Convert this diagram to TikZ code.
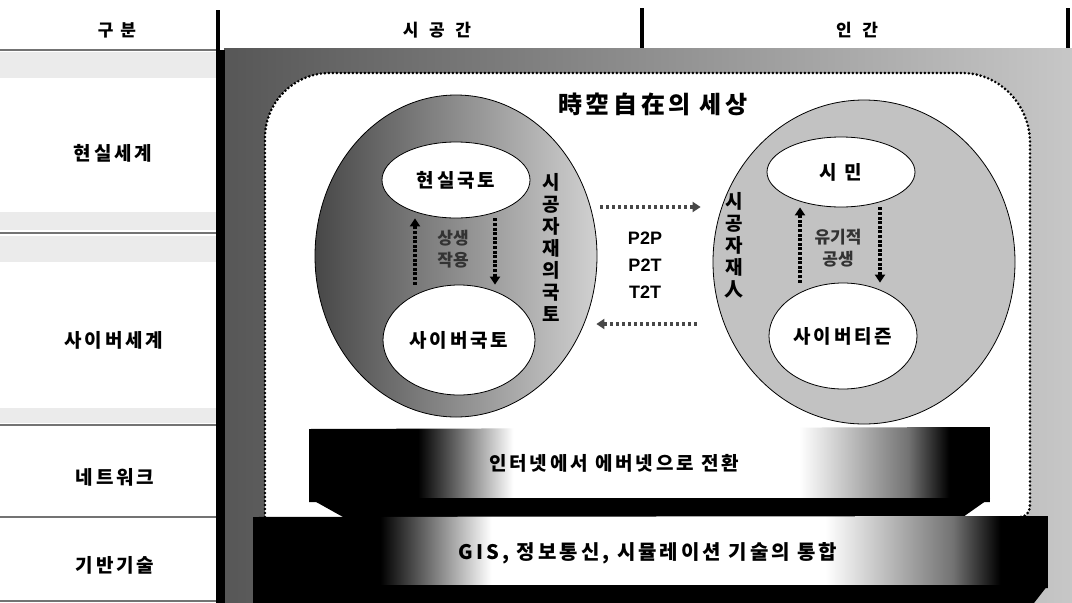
\documentclass[tikz,border=0pt]{standalone}
\usepackage{fontspec}
\setmainfont{Noto Sans CJK KR}
\newfontfamily\krs{Noto Sans CJK KR}[LetterSpace=15]
\newfontfamily\krw{Noto Sans CJK KR}[LetterSpace=40]
\newfontfamily\lat{Liberation Sans}
\usetikzlibrary{arrows.meta,shapes.geometric}
\definecolor{midgray}{gray}{0.45}
\definecolor{panelL}{gray}{0.34}
\definecolor{panelR}{gray}{0.78}
\pgfdeclarehorizontalshading{barshade}{100bp}{color(0bp)=(black); color(25bp)=(black); color(33bp)=(black); color(40bp)=(white); color(61bp)=(white); color(69bp)=(midgray); color(72bp)=(black); color(100bp)=(black)}
\tikzset{
  hdr/.style={font=\krw\bfseries\fontsize{17}{19}\selectfont},
  rowlbl/.style={font=\krs\bfseries\fontsize{19}{21}\selectfont},
  inlbl/.style={font=\krs\bfseries\fontsize{19}{21}\selectfont},
  outer/.style={ellipse, draw=black, line width=0.8pt, inner sep=0pt},
  inner/.style={ellipse, draw=black, line width=0.8pt, fill=white, inner sep=0pt},
  vtext/.style={font=\bfseries\fontsize{19}{22}\selectfont, align=center, inner sep=0pt},
  smalltxt/.style={font=\bfseries\fontsize{17}{22}\selectfont, align=center, text=black!80, inner sep=0pt},
  varrow/.style={line width=3.2pt, dash pattern=on 3pt off 1.6pt, -{Triangle[length=8pt,width=10pt]}},
  harrow/.style={line width=3.4pt, black!72, dash pattern=on 3pt off 3pt, -{Triangle[length=8pt,width=10pt]}},
  sepline/.style={line width=2.5pt, black!55},
  sepband/.style={fill=black!8, draw=none},
  vbar/.style={fill=black, draw=none},
  dotb/.style={line width=2.9pt, dash pattern=on 0pt off 4pt, line cap=round}
}
\begin{document}
\begin{tikzpicture}[x=1pt,y=-1pt]
\useasboundingbox (0,0) rectangle (1072,603);
\fill[white] (0,0) rectangle (1072,603);
% left column bands
\path[sepband] (0,52) rectangle (216,78);
\path[sepband] (0,212) rectangle (216,230);
\path[sepband] (0,236) rectangle (216,262);
\path[sepband] (0,408) rectangle (216,423);
\draw[sepline] (0,50) -- (218,50);
\draw[sepline] (0,233) -- (218,233);
\draw[sepline] (0,425) -- (218,425);
\draw[sepline] (0,517) -- (218,517);
\draw[sepline] (0,601) -- (218,601);
% header bars
\path[vbar] (216,10) rectangle (220,50);
\path[vbar] (640,8) rectangle (644,48);
\path[vbar] (1066,8) rectangle (1070,50);
% main panel
\shade[left color=panelL, right color=panelR] (224,48) -- (1072,48) -- (1072,603) -- (224,603) -- (224,56) -- cycle;
\path[vbar] (216,50) rectangle (225,603);
% inner white box
\fill[white] (265,517) -- (265,138) .. controls (265,102) and (294,73) .. (330,73) -- (962,73) .. controls (1000,73) and (1030,105) .. (1030,143) -- (1030,505) .. controls (1030,512) and (1026,517) .. (1020,517) -- cycle;
\draw[dotb] (265,517) -- (265,138) .. controls (265,102) and (294,73) .. (330,73) -- (962,73) .. controls (1000,73) and (1030,105) .. (1030,143) -- (1030,505) .. controls (1030,512) and (1026,517) .. (1020,517);
% header texts
\node[hdr] (h0) at (117,30) {구분};
\node[hdr] (h1) at (437,30) {시 공 간};
\node[hdr] (h2) at (857,30) {인 간};
% row labels
\node[rowlbl] (r1) at (113,153) {현실세계};
\node[rowlbl] (r2) at (114,340) {사이버세계};
\node[rowlbl] (r3) at (115,477) {네트워크};
\node[rowlbl] (r4) at (115,565) {기반기술};
% title
\node[font=\krs\bfseries\fontsize{24}{26}\selectfont] (title) at (653,104) {時空自在의 세상};
% ellipses
\node[outer, left color=black!72, right color=black!18, minimum width=282pt, minimum height=322pt] (L) at (456,256) {};
\node[outer, fill=black!24, minimum width=302pt, minimum height=324pt] (R) at (864,262) {};
\node[inner, minimum width=148pt, minimum height=76pt, inlbl] (lt) at (456,180) {현실국토};
\node[inner, minimum width=152pt, minimum height=110pt, inlbl] (lb) at (459,340) {사이버국토};
\node[inner, minimum width=148pt, minimum height=70pt, inlbl] (rt) at (841,172) {시 민};
\node[inner, minimum width=148pt, minimum height=106pt, inlbl] (rb) at (843,336) {사이버티즌};
% vertical texts
\node[vtext] (vl) at (551,247) {시\\공\\자\\재\\의\\국\\토};
\node[vtext] (vr) at (734,245) {시\\공\\자\\재\\人};
% inner labels
\node[smalltxt] (sl) at (453,249) {상생\\작용};
\node[smalltxt] (sr) at (838,248) {유기적\\공생};
% vertical arrows
\draw[varrow] ([xshift=-44pt]lb.north) -- ([xshift=-41pt]lt.south);
\draw[varrow] ([xshift=39pt]lt.south) -- ([xshift=36pt]lb.north);
\draw[varrow] ([xshift=-43pt]rb.north) -- ([xshift=-41pt]rt.south);
\draw[varrow] ([xshift=39pt]rt.south) -- ([xshift=37pt]rb.north);
% horizontal arrows
\draw[harrow] ([xshift=3pt,yshift=49pt]L.east) -- ([xshift=-12pt,yshift=55pt]R.west);
\draw[harrow] ([xshift=-16pt,yshift=-62pt]R.west) -- ([xshift=-1pt,yshift=-68pt]L.east);
% P2P
\node[font=\lat\bfseries\fontsize{18}{27}\selectfont, align=center] (pp) at (645,265) {P2P\\P2T\\T2T};
% network bar
\shade[shading=barshade] (309,429) -- (990,427) -- (990,502) -- (309,502) -- cycle;
\fill[black] (309,498) -- (990,498) -- (963,517) -- (343,517) -- cycle;
\node[inlbl] (net) at (614,463) {인터넷에서 에버넷으로 전환};
% base bar
\shade[shading=barshade] (253,517) -- (1048,516) -- (1048,588) -- (253,588) -- cycle;
\fill[black] (253,585) -- (1048,585) -- (1034,603) -- (253,603) -- cycle;
\node[font=\krs\bfseries\fontsize{20}{22}\selectfont] (base) at (648,553) {GIS, 정보통신, 시뮬레이션 기술의 통합};
\end{tikzpicture}
\end{document}
